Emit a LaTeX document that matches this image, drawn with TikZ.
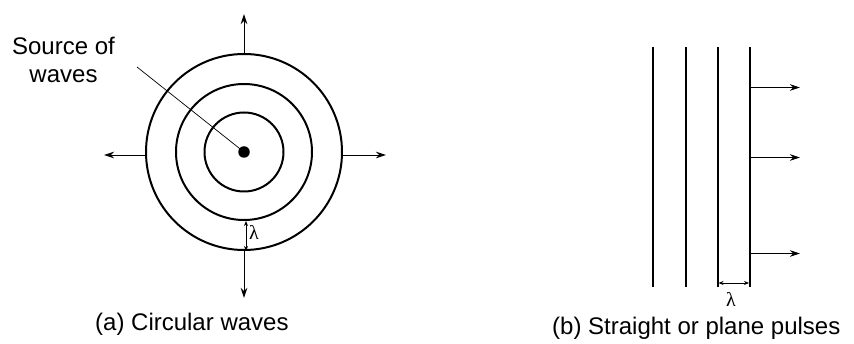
\documentclass[tikz,border=0pt]{standalone}
\usepackage{fontspec}
\setmainfont{Liberation Sans}
\newfontfamily\lamfont{Liberation Serif}
\usetikzlibrary{arrows.meta}
\begin{document}
\begin{tikzpicture}[x=1pt,y=-1pt,
  wave/.style={draw, circle, line width=2pt, inner sep=0pt},
  arr/.style={line width=0.9pt, -{Stealth[length=10pt,width=6.5pt]}},
  lam/.style={line width=0.9pt, {Stealth[length=5pt,width=4pt]}-{Stealth[length=5pt,width=4pt]}},
  front/.style={line width=2pt},
  lbl/.style={font=\fontsize{24}{28}\selectfont, inner sep=0pt},
  lamlbl/.style={font=\lamfont\fontsize{20}{24}\selectfont, inner sep=0pt}]
\path[use as bounding box] (0,0) rectangle (854,344);
% (a) circular waves
\node[wave, minimum size=79pt] (c1) at (244,152) {};
\node[wave, minimum size=136pt] (c2) at (244,152) {};
\node[wave, minimum size=196pt] (c3) at (244,152) {};
\node[circle, fill, minimum size=11.5pt, inner sep=0pt] (src) at (244,152) {};
\node[lbl, anchor=base] (srcA) at (63.5,55) {Source of};
\node[lbl, anchor=base] (srcB) at (63.5,83) {waves};
\coordinate (lead) at (137,67);
\draw[line width=0.7pt] (lead) -- (src.center);
\coordinate (tipN) at (244,14);
\coordinate (tipS) at (244,298);
\coordinate (tipW) at (104,155);
\coordinate (tipE) at (386,155);
\draw[arr] (c3.north) -- (tipN);
\draw[arr] (c3.south) -- (tipS);
\draw[arr] (c3.west |- tipW) -- (tipW);
\draw[arr] (c3.east |- tipE) -- (tipE);
\draw[lam] ([xshift=2pt]c2.south) -- ([xshift=2pt]c3.south);
\node[lamlbl] (lamA) at (254,232) {λ};
\node[lbl, anchor=base west] (capA) at (95,331) {(a) Circular waves};
% (b) plane pulses
\coordinate (p1t) at (652.5,47); \coordinate (p1b) at (652.5,287);
\coordinate (p2t) at (685.5,47); \coordinate (p2b) at (685.5,287);
\coordinate (p3t) at (717.5,47); \coordinate (p3b) at (717.5,287);
\coordinate (p4t) at (750,47);   \coordinate (p4b) at (750,287);
\draw[front] (p1t) -- (p1b);
\draw[front] (p2t) -- (p2b);
\draw[front] (p3t) -- (p3b);
\draw[front] (p4t) -- (p4b);
\coordinate (a1s) at (750,87.5);  \coordinate (a1e) at (800,87.5);
\coordinate (a2s) at (750,157.5); \coordinate (a2e) at (800,157.5);
\coordinate (a3s) at (750,253.5); \coordinate (a3e) at (800,253.5);
\draw[arr] (a1s) -- (a1e);
\draw[arr] (a2s) -- (a2e);
\draw[arr] (a3s) -- (a3e);
\coordinate (l1) at (718.5,283); \coordinate (l2) at (749,283);
\draw[lam] (l1) -- (l2);
\node[lamlbl] (lamB) at (731,299) {λ};
\node[lbl, anchor=base west] (capB) at (552,335) {(b) Straight or plane pulses};
\end{tikzpicture}
\end{document}
